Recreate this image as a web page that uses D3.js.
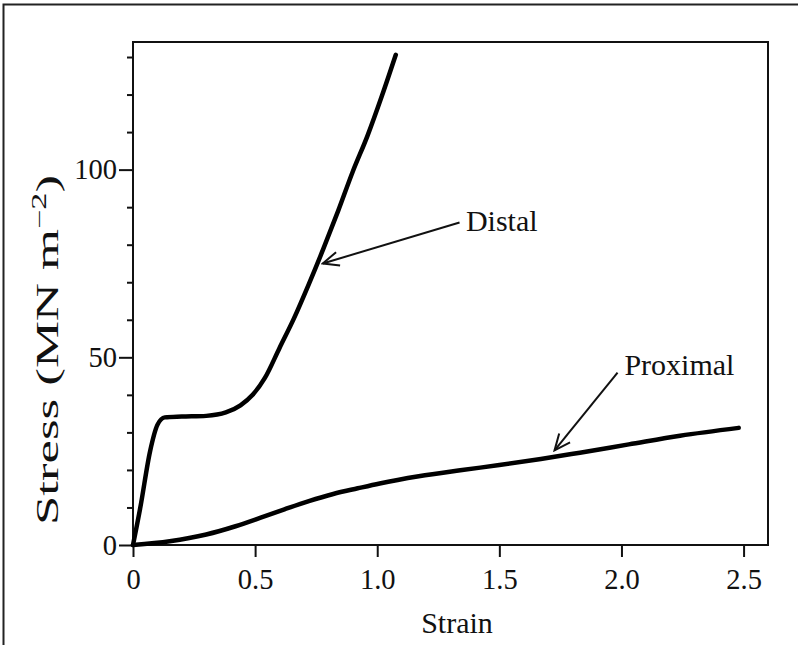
<!DOCTYPE html>
<html>
<head>
<meta charset="utf-8">
<script src="https://cdn.jsdelivr.net/npm/d3@7"></script>
<style>
  body { margin: 0; background: #fff; }
  svg text { font-family: "Liberation Serif", "DejaVu Serif", serif; fill: #111; }
</style>
</head>
<body>
<div id="viz"></div>
<script>
// values (strain, stress in MN m^-2)
const distalStrain = [0, 0.03, 0.07, 0.10, 0.13, 0.20, 0.30, 0.38, 0.44, 0.49, 0.54, 0.60, 0.66, 0.72, 0.78, 0.84, 0.90, 0.96, 1.02, 1.076];
const distalStress = [0, 10, 25, 32, 34, 34.2, 34.4, 35.3, 37.2, 40, 44.5, 52.5, 60.5, 69.5, 79, 89, 99.5, 109, 119.8, 130.6];
const proximalStrain = [0, 0.15, 0.30, 0.42, 0.52, 0.62, 0.72, 0.82, 0.92, 1.01, 1.17, 1.34, 1.50, 1.67, 1.83, 2.03, 2.24, 2.48];
const proximalStress = [0, 1.0, 2.8, 5.0, 7.2, 9.5, 11.7, 13.6, 15.1, 16.4, 18.3, 19.9, 21.3, 22.9, 24.6, 26.8, 29.1, 31.2];

const xTicks = [0, 0.5, 1.0, 1.5, 2.0, 2.5];
const yMajorTicks = [0, 50, 100];
const yMinorTicks = [10, 20, 30, 40, 60, 70, 80, 90, 110, 120, 130];

// annotations: label anchor and arrow (from -> tip), in data units
const labels = ['Distal', 'Proximal'];
const labelAt = [[1.363, 83.6], [2.012, 45.4]];
const arrowFrom = [[1.337, 85.9], [1.984, 45.9]];
const arrowTip = [[0.777, 75.0], [1.726, 25.2]];

const WIDTH = 798;
const HEIGHT = 645;
const MARGIN = { top: 42, right: 30, bottom: 100, left: 133 };
const FONT = 30;
const TICK_FONT = 28.5;

const svg = d3.select('#viz').append('svg')
  .attr('width', WIDTH)
  .attr('height', HEIGHT);

// outer figure border (runs off the right and bottom edges)
svg.append('rect')
  .attr('x', 3.5).attr('y', 4.5)
  .attr('width', 900).attr('height', 900)
  .attr('fill', 'none')
  .attr('stroke', '#222')
  .attr('stroke-width', 2);

const x = d3.scaleLinear()
  .domain([0, 2.6])
  .range([MARGIN.left, WIDTH - MARGIN.right]);
const y = d3.scaleLinear()
  .domain([0, 134])
  .range([HEIGHT - MARGIN.bottom, MARGIN.top]);

// plot frame
svg.append('rect')
  .attr('x', x(0)).attr('y', y(134))
  .attr('width', x(2.6) - x(0))
  .attr('height', y(0) - y(134))
  .attr('fill', 'none')
  .attr('stroke', '#111')
  .attr('stroke-width', 2);

const styleAxis = (g) => {
  g.select('.domain').remove();
  g.selectAll('line').attr('stroke', '#111').attr('stroke-width', 2);
  g.selectAll('text').attr('font-size', TICK_FONT).attr('font-family', null);
};

const fmt = d => (d === 0 ? '0' : d3.format('.1f')(d));

svg.append('g')
  .attr('transform', `translate(0, ${y(0)})`)
  .call(d3.axisBottom(x).tickValues(xTicks).tickFormat(fmt)
    .tickSize(12).tickPadding(12))
  .call(styleAxis);

svg.append('g')
  .attr('transform', `translate(${x(0)}, 0)`)
  .call(d3.axisLeft(y).tickValues(yMinorTicks).tickFormat('').tickSize(6))
  .call(styleAxis);

svg.append('g')
  .attr('transform', `translate(${x(0)}, 0)`)
  .call(d3.axisLeft(y).tickValues(yMajorTicks).tickFormat(d3.format('d'))
    .tickSize(14).tickPadding(2))
  .call(styleAxis);

// axis titles
svg.append('text')
  .attr('x', 457)
  .attr('y', 633)
  .attr('text-anchor', 'middle')
  .attr('font-size', FONT)
  .text('Strain');

const yTitle = svg.append('text')
  .attr('transform', 'translate(58, 350) rotate(-90)')
  .attr('text-anchor', 'middle')
  .attr('font-size', 31)
  .attr('textLength', 350)
  .attr('lengthAdjust', 'spacingAndGlyphs');
yTitle.append('tspan').text('Stress (MN m');
yTitle.append('tspan').attr('dy', -12).attr('font-size', 20).text('\u22122');
yTitle.append('tspan').attr('dy', 12).text(')');

// curves
const line = d3.line()
  .x(d => x(d[0]))
  .y(d => y(d[1]))
  .curve(d3.curveMonotoneX);

const series = [
  d3.zip(distalStrain, distalStress),
  d3.zip(proximalStrain, proximalStress)
];

svg.append('g')
  .selectAll('path')
  .data(series)
  .join('path')
  .attr('d', line)
  .attr('fill', 'none')
  .attr('stroke', '#000')
  .attr('stroke-width', 4.5)
  .attr('stroke-linecap', 'round')
  .attr('stroke-linejoin', 'round');

// open arrowheads
svg.append('defs').append('marker')
  .attr('id', 'arrow')
  .attr('markerUnits', 'userSpaceOnUse')
  .attr('viewBox', '-18 -9 20 18')
  .attr('markerWidth', 20).attr('markerHeight', 18)
  .attr('refX', 0).attr('refY', 0)
  .attr('orient', 'auto')
  .append('path')
  .attr('d', 'M-16,-7 L0,0 L-16,7')
  .attr('fill', 'none')
  .attr('stroke', '#111')
  .attr('stroke-width', 2);

const notes = svg.append('g');
labels.forEach((name, i) => {
  notes.append('line')
    .attr('x1', x(arrowFrom[i][0])).attr('y1', y(arrowFrom[i][1]))
    .attr('x2', x(arrowTip[i][0])).attr('y2', y(arrowTip[i][1]))
    .attr('stroke', '#111')
    .attr('stroke-width', 2)
    .attr('marker-end', 'url(#arrow)');
  notes.append('text')
    .attr('x', x(labelAt[i][0]))
    .attr('y', y(labelAt[i][1]))
    .attr('font-size', FONT)
    .text(name);
});
</script>
</body>
</html>
